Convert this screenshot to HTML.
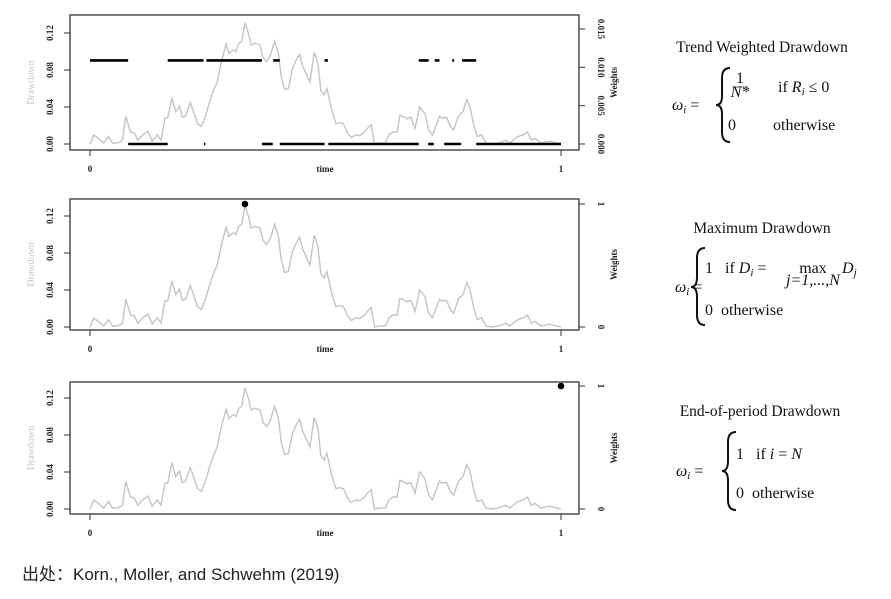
<!DOCTYPE html>
<html><head><meta charset="utf-8"><style>
body{margin:0;background:#fff;width:891px;height:599px;overflow:hidden}
svg{display:block}
.tk{font-family:"Liberation Serif",serif;font-size:9px;font-weight:bold;fill:#222}
.ttl{font-family:"Liberation Serif",serif;font-size:15.5px;fill:#111}
.fm{font-family:"Liberation Serif",serif;font-size:16px;fill:#111}
.it{font-style:italic}
</style></head><body>
<svg id="chart" width="891" height="599">
<text x="22" y="580" style="font-family:'Liberation Sans','Noto Sans CJK SC',sans-serif;font-size:17px;fill:#222">出处：Korn., Moller, and Schwehm (2019)</text>

<g>
<text class="ttl" x="762" y="52" text-anchor="middle">Trend Weighted Drawdown</text>
<text class="fm it" x="672" y="110">ω<tspan font-size="11" dy="3">i</tspan><tspan dy="-3" font-style="normal"> =</tspan></text>
<path d="M730,68 Q722,68 722,78 L722,96 Q722,105 716,105 Q722,105 722,114 L722,132 Q722,142 730,142" fill="none" stroke="#111" stroke-width="2"/>
<text class="fm" x="740" y="83" font-size="10" text-anchor="middle">1</text><line x1="733" y1="87" x2="748" y2="87" stroke="#111" stroke-width="0.7"/><text class="fm it" x="740" y="97" font-size="9" text-anchor="middle">N*</text>
<text class="fm" x="778" y="92">if <tspan class="it">R<tspan font-size="11" dy="3">i</tspan></tspan><tspan dy="-3"> ≤ 0</tspan></text>
<text class="fm" x="728" y="130">0</text><text class="fm" x="773" y="130">otherwise</text>
</g>
<g>
<text class="ttl" x="762" y="233" text-anchor="middle">Maximum Drawdown</text>
<text class="fm it" x="675" y="292">ω<tspan font-size="11" dy="3">i</tspan><tspan dy="-3" font-style="normal"> =</tspan></text>
<path d="M705,248 Q697,248 697,258 L697,277 Q697,287 691,287 Q697,287 697,297 L697,315 Q697,325 705,325" fill="none" stroke="#111" stroke-width="2"/>
<text class="fm" x="705" y="273">1 &#160; if <tspan class="it">D<tspan font-size="11" dy="3">i</tspan></tspan><tspan dy="-3"> =</tspan></text>
<text class="fm" x="813" y="273" text-anchor="middle">max</text>
<text class="fm it" x="813" y="285" font-size="10" text-anchor="middle">j=1,...,N</text>
<text class="fm it" x="842" y="273">D<tspan font-size="11" dy="3">j</tspan></text>
<text class="fm" x="705" y="315">0 &#160;otherwise</text>
</g>
<g>
<text class="ttl" x="760" y="416" text-anchor="middle">End-of-period Drawdown</text>
<text class="fm it" x="676" y="476">ω<tspan font-size="11" dy="3">i</tspan><tspan dy="-3" font-style="normal"> =</tspan></text>
<path d="M736,432 Q728,432 728,442 L728,461 Q728,471 722,471 Q728,471 728,481 L728,500 Q728,510 736,510" fill="none" stroke="#111" stroke-width="2"/>
<text class="fm" x="736" y="459">1 &#160; if <tspan class="it">i</tspan> = <tspan class="it">N</tspan></text>
<text class="fm" x="736" y="498">0 &#160;otherwise</text>
</g>
</svg>
<script>
const times=[0,.008,.018,.029,.039,.048,.060,.069,.076,.086,.094,.102,.112,.123,.132,.143,.151,.159,.165,.174,.182,.190,.196,.203,.213,.221,.228,.237,.245,.253,.262,.270,.279,.289,.295,.304,.310,.316,.322,.329,.336,.342,.350,.361,.367,.375,.383,.392,.400,.406,.413,.421,.430,.438,.445,.451,.459,.467,.476,.484,.490,.497,.503,.513,.522,.530,.538,.547,.555,.564,.572,.581,.589,.597,.604,.614,.627,.635,.643,.652,.658,.664,.673,.681,.690,.700,.711,.719,.727,.736,.742,.748,.757,.765,.772,.782,.792,.800,.807,.814,.822,.831,.841,.853,.866,.883,.891,.908,.920,.929,.937,.945,.958,.975,1];
const drawdown=[0,.0097,.006,.001,.008,.001,.0014,.004,.030,.013,.012,.004,.010,.014,.003,.010,.004,.028,.028,.050,.035,.041,.029,.030,.045,.033,.022,.019,.030,.044,.058,.067,.089,.108,.098,.102,.100,.109,.111,.131,.120,.107,.109,.107,.094,.089,.096,.111,.098,.073,.059,.060,.082,.091,.097,.085,.076,.067,.099,.087,.058,.053,.060,.037,.022,.023,.022,.012,.007,.010,.009,.012,.017,.021,0,.001,.001,.010,.013,.013,.031,.030,.027,.029,.017,.040,.033,.015,.010,.022,.030,.028,.029,.019,.015,.030,.035,.048,.040,.022,.008,.010,.001,0,.001,.004,.001,.008,.010,.013,.004,.006,.001,.003,0];
const trendWeight=0.0109;
const posSegStart=[0,.165,.247,.389,.498,.698,.732,.769,.790];
const posSegEnd=[.081,.241,.365,.403,.505,.719,.742,.773,.820];
const zeroSegStart=[.081,.242,.365,.403,.506,.718,.752,.820];
const zeroSegEnd=[.165,.245,.388,.498,.698,.730,.788,1];
const yTicks=[0,0.04,0.08,0.12];
const yTickLabels=["0.00","0.04","0.08","0.12"];
const w1Ticks=[0,0.005,0.010,0.015];
const w1TickLabels=["0.000","0.005","0.010","0.015"];
const w01Ticks=[0,1];
const w01TickLabels=["0","1"];
const maxDDTime=0.329, maxDDWeight=1;
const endTime=1, endWeight=1;

const NS="http://www.w3.org/2000/svg";
const svg=document.getElementById('chart');
function mk(tag,attrs,parent){const e=document.createElementNS(NS,tag);for(const k in attrs)e.setAttribute(k,attrs[k]);(parent||svg).appendChild(e);return e;}
const X0=90,X1=561;
const xs=t=>X0+(X1-X0)*t;
function panel(name,top,bot,y0,y12,wTicks,wLabels,wTop,wTopVal){
  const g=mk('g',{});
  
  
  const ys=v=>y0+(y12-y0)*v/0.12;
  const ws=w=>y0+(wTop-y0)*w/wTopVal;
  const box=mk('rect',{x:70,y:top,width:509,height:bot-top,fill:'none',stroke:'#333','stroke-width':1.3},g);
  
  
  const la=mk('g',{},g);
  
  
  mk('line',{x1:70,x2:70,y1:ys(0),y2:ys(0.12),stroke:'#333'},la);
  yTicks.forEach((v,i)=>{mk('line',{x1:64,x2:70,y1:ys(v),y2:ys(v),stroke:'#333'},la);
    const t=mk('text',{class:'tk',x:0,y:0,'text-anchor':'middle',transform:`translate(53,${ys(v)}) rotate(-90)`},la);t.textContent=yTickLabels[i];});
  const yl=mk('text',{x:0,y:0,'text-anchor':'middle',transform:`translate(34,${(top+bot)/2}) rotate(-90)`,style:'font-family:"Liberation Serif",serif;font-size:10px;fill:#c8c8c8'},g);
  yl.textContent='Drawdown';
  
  
  const ra=mk('g',{},g);
  
  
  mk('line',{x1:579,x2:579,y1:ws(wTicks[0]),y2:ws(wTicks[wTicks.length-1]),stroke:'#333'},ra);
  wTicks.forEach((v,i)=>{mk('line',{x1:579,x2:585,y1:ws(v),y2:ws(v),stroke:'#333'},ra);
    const t=mk('text',{class:'tk',x:0,y:0,'text-anchor':'middle',transform:`translate(598,${ws(v)}) rotate(90)`},ra);t.textContent=wLabels[i];});
  const wl=mk('text',{class:'tk',x:0,y:0,'text-anchor':'middle',transform:`translate(617,${(top+bot)/2}) rotate(-90)`},g);
  wl.textContent='Weights';
  
  
  const xa=mk('g',{},g);
  
  
  mk('line',{x1:X0,x2:X1,y1:bot,y2:bot,stroke:'#333'},xa);
  [0,1].forEach(v=>{mk('line',{x1:xs(v),x2:xs(v),y1:bot,y2:bot+6,stroke:'#333'},xa);
    const t=mk('text',{class:'tk',x:xs(v),y:bot+22,'text-anchor':'middle'},xa);t.textContent=String(v);});
  const xt=mk('text',{class:'tk',x:325,y:bot+22,'text-anchor':'middle'},g);xt.textContent='time';
  
  
  const p=mk('path',{d:times.map((t,i)=>(i?'L':'M')+xs(t).toFixed(1)+','+ys(drawdown[i]).toFixed(1)).join(''),fill:'none',stroke:'#c4c4c4','stroke-width':1.4},g);
  
  
  return {g,ys,ws};
}
const p1=panel('panel-trend-weighted',15,150,144,33,w1Ticks,w1TickLabels,29,0.015);
posSegStart.forEach((s,i)=>{const l=mk('line',{x1:xs(s),x2:xs(posSegEnd[i]),y1:p1.ws(trendWeight),y2:p1.ws(trendWeight),stroke:'#000','stroke-width':2.6},p1.g);
  
  });
zeroSegStart.forEach((s,i)=>{const l=mk('line',{x1:xs(s),x2:xs(zeroSegEnd[i]),y1:p1.ws(0),y2:p1.ws(0),stroke:'#000','stroke-width':2.6},p1.g);
  
  });
const p2=panel('panel-maximum',199,330,327,216,w01Ticks,w01TickLabels,204,1);
const d2=mk('circle',{cx:xs(maxDDTime),cy:p2.ws(maxDDWeight),r:3.3,fill:'#000'},p2.g);


const p3=panel('panel-end-of-period',382,514,509,398,w01Ticks,w01TickLabels,386,1);
const d3=mk('circle',{cx:xs(endTime),cy:p3.ws(endWeight),r:3.3,fill:'#000'},p3.g);


</script>
</body></html>
